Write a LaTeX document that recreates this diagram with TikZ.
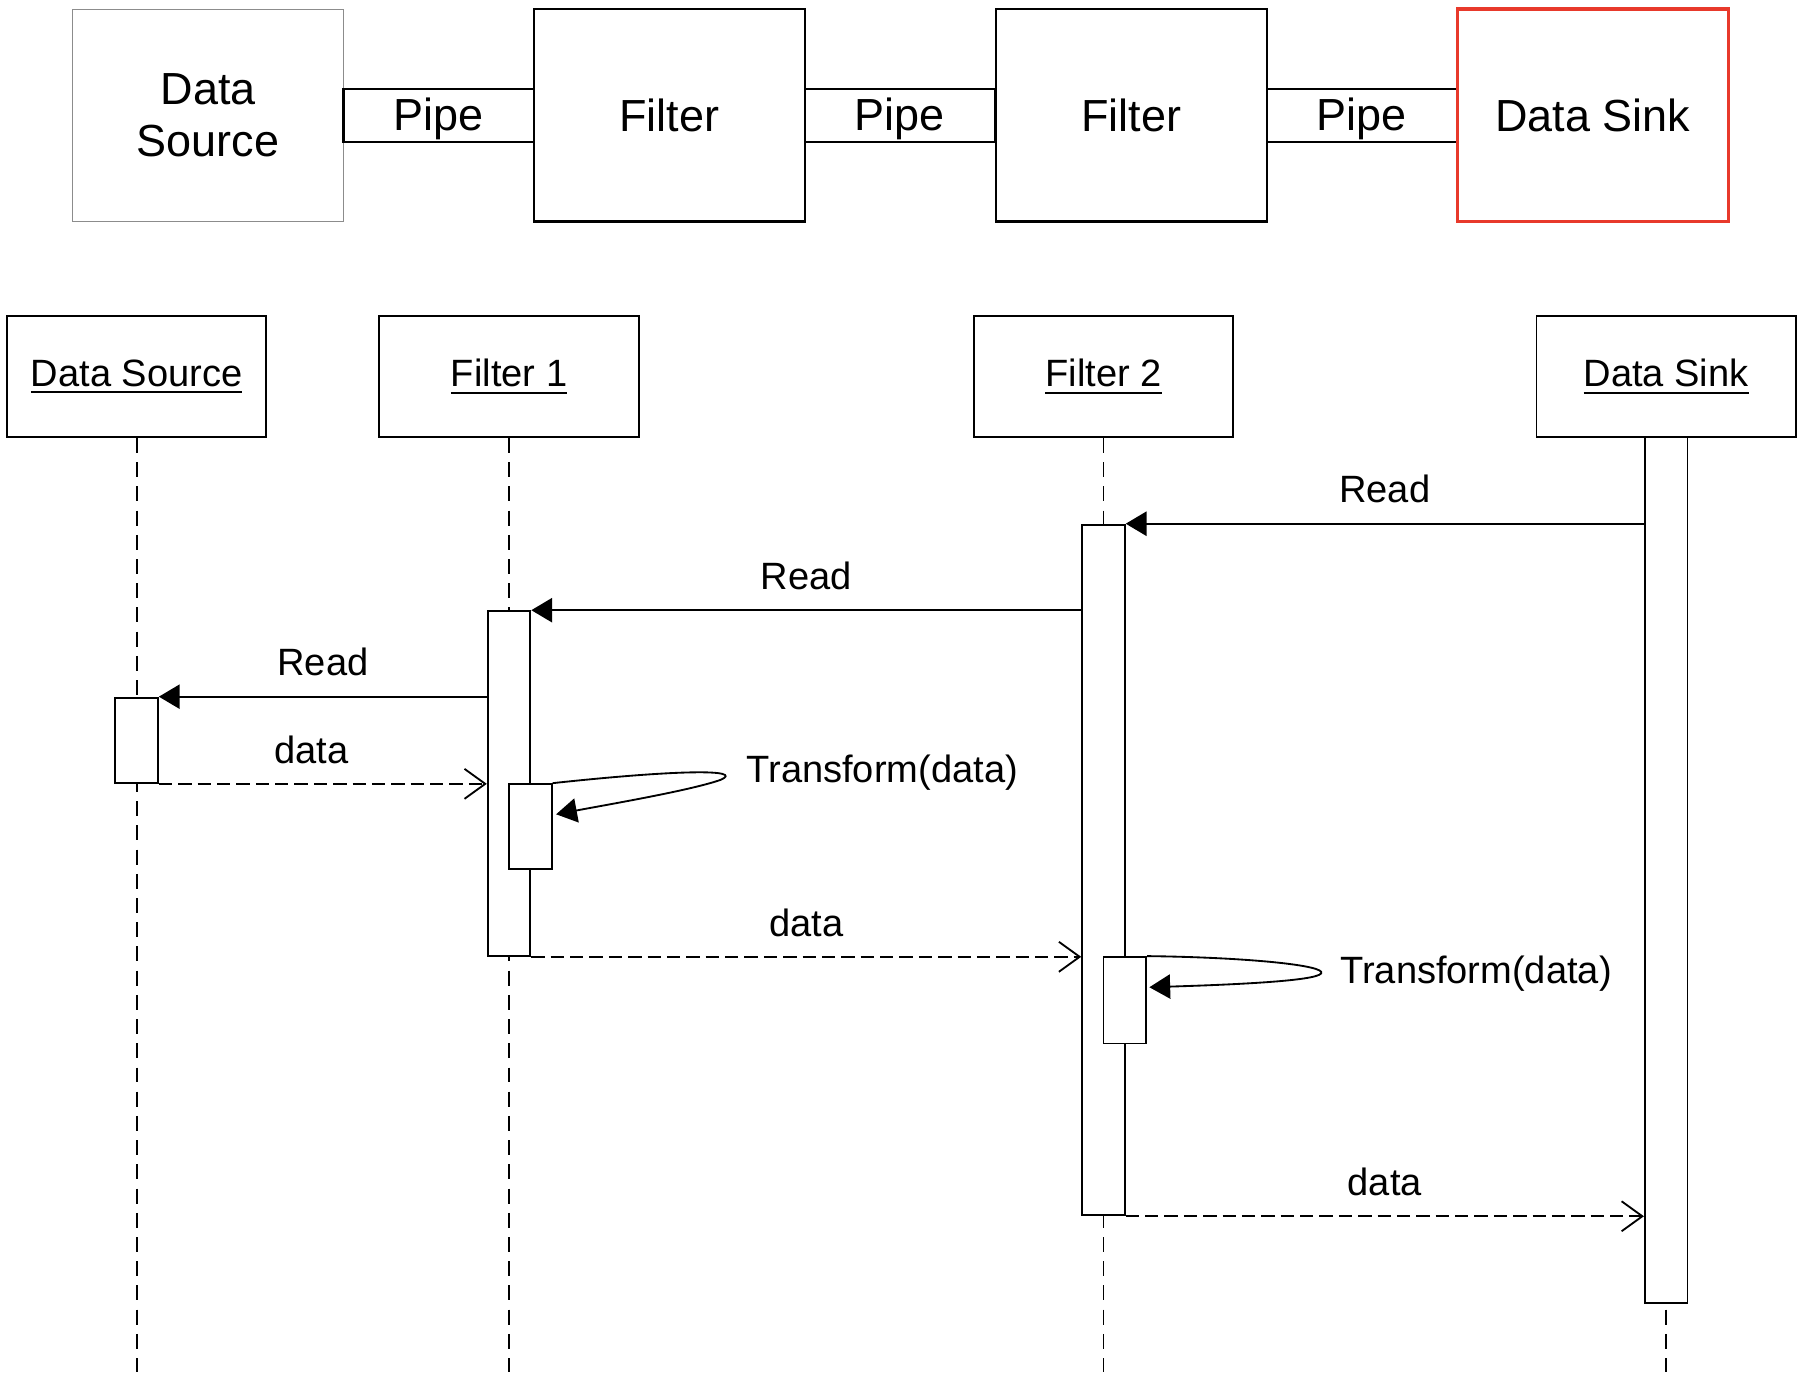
\documentclass[tikz,border=0pt]{standalone}
\usepackage{fontspec}
\setmainfont{Liberation Sans}
\usetikzlibrary{arrows.meta,calc}
\definecolor{sinkred}{HTML}{E8392B}
\definecolor{srcgray}{HTML}{8C8C8C}
% underlined object name for lifeline heads
\newcommand\ulname[1]{\setbox0=\hbox{#1}\leavevmode\rlap{\rule[-3.2pt]{\wd0}{0.9pt}}\box0}
\begin{document}
\begin{tikzpicture}[x=0.5pt,y=-0.5pt,
  bigfont/.style={font=\fontsize{19.5pt}{22.5pt}\selectfont},
  smallfont/.style={font=\fontsize{16.5pt}{19pt}\selectfont},
  stage/.style={draw=black,line width=1pt,fill=white,minimum width=117.5pt,minimum height=92pt,inner sep=0pt,align=center,bigfont},
  pipebox/.style={draw=black,line width=1pt,minimum width=82.5pt,minimum height=23pt,inner sep=0pt},
  pipetext/.style={inner sep=0pt,bigfont},
  head/.style={draw=black,line width=0.8pt,fill=white,minimum width=112.5pt,minimum height=52.5pt,inner sep=0pt,smallfont},
  act/.style={draw=black,line width=0.8pt,fill=white,minimum width=18.5pt,inner sep=0pt},
  lifeline/.style={draw=black,line width=0.8pt,dash pattern=on 6.5pt off 4pt},
  call/.style={draw=black,line width=0.8pt,-{Triangle[length=9pt,width=10.5pt]}},
  reply/.style={draw=black,line width=0.8pt,dash pattern=on 5.8pt off 2.6pt,-{Straight Barb[length=9pt,width=13pt]}},
  msglabel/.style={anchor=base,yshift=9pt,inner sep=0pt,smallfont},
  calllabel/.style={anchor=west,inner sep=0pt,smallfont}]
\useasboundingbox[fill=white] (0,0) rectangle (1568,1202);

% ---- pipes and filters ----
\node[stage,draw=srcgray,line width=0.6pt] (src) at (180.5,100) {Data\\Source};
\node[pipebox] (p1) at (380.5,100) {};
\node[stage] (flt1) at (580.5,100) {Filter};
\node[pipebox] (p2) at (780.5,100) {};
\node[stage] (flt2) at (981,100) {Filter};
\node[pipebox] (p3) at (1181,100) {};
\node[stage,draw=sinkred,line width=1.5pt] (sink) at (1381.5,100) {Data Sink};
\node[pipetext] at ([yshift=-1.6pt]p1.center) {Pipe};
\node[pipetext] at ([yshift=-1.6pt]p2.center) {Pipe};
\node[pipetext] at ([yshift=-1.6pt]p3.center) {Pipe};

% ---- lifeline heads ----
\node[head] (hsrc) at (118.5,326.5) {\ulname{Data Source}};
\node[head] (hf1) at (441.5,326.5) {\ulname{Filter 1}};
\node[head] (hf2) at (957,326.5) {\ulname{Filter 2}};
\node[head] (hsink) at (1445,326.5) {\ulname{Data Sink}};

\coordinate (esrc) at (118.5,1190);
\coordinate (ef1) at (441.5,1190);
\coordinate (ef2) at (957,1190);
\coordinate (esink) at (1445,1190);
\draw[lifeline] (hsrc.south) -- (esrc);
\draw[lifeline] (hf1.south) -- (ef1);
\draw[lifeline] (hf2.south) -- (ef2);
\draw[lifeline] (hsink.south) -- (esink);

% ---- activations ----
\node[act,minimum height=375.5pt] (asink) at (1445,754.5) {};
\node[act,minimum height=299.5pt] (af2) at (957,754.5) {};
\node[act,minimum height=149.5pt] (af1) at (441.5,679.5) {};
\node[act,minimum height=37pt] (asrc) at (118.5,642) {};
\node[act,minimum height=37pt] (sf1) at (460,717) {};
\node[act,minimum height=37.5pt] (sf2) at (975.5,867.5) {};

% ---- messages ----
\draw[call] (asink.west |- af2.north east) -- node[msglabel]{Read} (af2.north east);
\draw[call] (af2.west |- af1.north east) -- node[msglabel]{Read} (af1.north east);
\draw[call] (af1.west |- asrc.north east) -- node[msglabel]{Read} (asrc.north east);
\draw[reply] (asrc.south east) -- node[msglabel,xshift=-5pt]{data} (af1.west |- asrc.south east);
\draw[reply] (af1.south east) -- node[msglabel]{data} (af2.west |- af1.south east);
\draw[reply] (af2.south east) -- node[msglabel]{data} (asink.west |- af2.south east);

% ---- self calls ----
\coordinate (t1tip) at ($(sf1.north east)+(146,-3)$);
\coordinate (t1end) at ($(sf1.north east)+(3,27)$);
\draw[call] (sf1.north east) .. controls +(111,-12) and +(20,-9) .. (t1tip)
  .. controls +(-25,9) and +(48,-9) .. (t1end);
\node[calllabel] (lt1) at (647,670) {Transform(data)};

\coordinate (t2tip) at ($(sf2.north east)+(151,15)$);
\coordinate (t2end) at ($(sf2.north east)+(2,27)$);
\draw[call] (sf2.north east) .. controls +(86,1) and +(5,-7) .. (t2tip)
  .. controls +(-5,7) and +(64,-2) .. (t2end);
\node[calllabel] (lt2) at (1162,844) {Transform(data)};
\end{tikzpicture}
\end{document}
